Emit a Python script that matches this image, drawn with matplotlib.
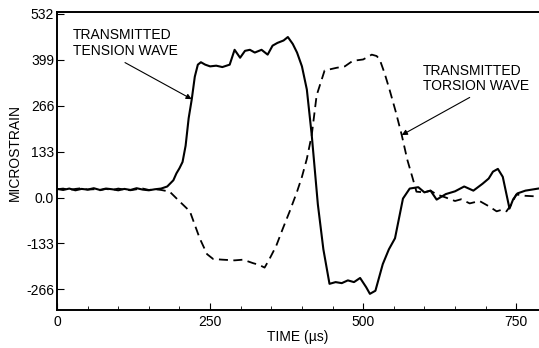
import matplotlib

matplotlib.use("Agg")
import matplotlib.pyplot as plt
from matplotlib.ticker import MultipleLocator

plt.rcParams["font.family"] = ["Liberation Sans", "DejaVu Sans"]

# transmitted tension wave (solid), time in us, microstrain
tension_t = [0, 10, 20, 30, 40, 50, 60, 70, 80, 90, 100, 110, 120, 130, 140, 150,
             160, 170, 180, 190, 195, 200, 205, 210, 215, 220, 225, 230, 235, 242,
             250, 260, 270, 282, 290, 299, 307, 315, 323, 334, 344, 352, 360, 370,
             377, 385, 392, 400, 408, 416, 426, 435, 445, 455, 465, 475, 485, 495,
             505, 511, 520, 532, 542, 552, 565, 576, 590, 600, 610, 620, 635, 650,
             665, 680, 695, 705, 712, 720, 728, 739, 745, 752, 765, 786]
tension_v = [25, 22, 26, 21, 25, 23, 27, 22, 26, 24, 21, 25, 22, 27, 23, 21,
             24, 26, 32, 50, 70, 85, 103, 150, 230, 284, 350, 385, 392, 385,
             380, 382, 378, 385, 428, 405, 425, 428, 420, 428, 414, 440, 448, 455,
             465, 445, 420, 380, 313, 181, -20, -150, -250, -245, -248, -240, -245, -233,
             -260, -279, -270, -193, -150, -118, -3, 26, 30, 15, 20, -6, 10, 18,
             32, 20, 40, 55, 75, 83, 60, -32, -5, 12, 20, 26]

# transmitted torsion wave (dashed)
torsion_t = [0, 10, 20, 30, 40, 50, 60, 70, 80, 90, 100, 110, 120, 130, 140, 150,
             160, 170, 184, 200, 217, 233, 245, 255, 270, 290, 304, 320, 330, 339,
             347, 358, 369, 380, 392, 400, 408, 416, 424, 437, 447, 457, 470, 483,
             500, 514, 522, 527, 535, 543, 553, 563, 572, 581, 587, 600, 610, 620,
             635, 650, 660, 674, 690, 705, 718, 727, 734, 742, 750, 765, 786]
torsion_v = [24, 26, 22, 25, 27, 23, 24, 21, 25, 22, 26, 23, 21, 24, 26, 22,
             24, 22, 17, -11, -40, -118, -164, -178, -180, -182, -180, -190, -195, -203,
             -178, -140, -89, -40, 17, 60, 112, 181, 296, 368, 372, 376, 380, 396,
             400, 414, 410, 400, 360, 313, 250, 181, 110, 55, 17, 15, 20, 9,
             0, -10, -5, -17, -10, -25, -40, -35, -40, -20, 9, 5, 3]

y_ticks = [-266, -133, 0, 133, 266, 399, 532]
y_tick_labels = ["-266", "-133", "0.0", "133", "266", "399", "532"]
x_ticks = [0, 250, 500, 750]

fig = plt.figure(figsize=(5.39, 3.48), dpi=100)
ax = fig.add_axes([0.1058, 0.109, 0.894, 0.857])

ax.plot(tension_t, tension_v, color="black", linewidth=1.5)
ax.plot(torsion_t, torsion_v, color="black", linewidth=1.3, dashes=(5, 3))

ax.set_xlim(0, 787)
ax.set_ylim(-326, 538)
ax.set_xticks(x_ticks)
ax.xaxis.set_minor_locator(MultipleLocator(50))
ax.set_yticks(y_ticks, y_tick_labels)
ax.tick_params(axis="both", which="both", direction="in", labelsize=10)
ax.tick_params(axis="both", which="major", length=5)
ax.tick_params(axis="y", pad=2)
ax.tick_params(axis="x", which="minor", length=3)
ax.spines["right"].set_visible(False)
for spine in ("left", "top", "bottom"):
    ax.spines[spine].set_linewidth(1.4)

ax.set_xlabel("TIME (µs)", fontsize=10, labelpad=1)
ax.set_ylabel("MICROSTRAIN", fontsize=10)
ax.yaxis.set_label_coords(-0.072, 0.53)

ax.text(26, 490, "TRANSMITTED\nTENSION WAVE", fontsize=10, ha="left", va="top",
        linespacing=1.15)
ax.annotate("", xy=(220, 285), xytext=(111, 391),
            arrowprops=dict(arrowstyle="-|>", color="black", lw=0.8,
                            shrinkA=0, shrinkB=0, mutation_scale=8))
ax.text(597, 388, "TRANSMITTED\nTORSION WAVE", fontsize=10, ha="left", va="top",
        linespacing=1.15)
ax.annotate("", xy=(563, 181), xytext=(674, 290),
            arrowprops=dict(arrowstyle="-|>", color="black", lw=0.8,
                            shrinkA=0, shrinkB=0, mutation_scale=8))

fig.savefig("out.png", dpi=100)
